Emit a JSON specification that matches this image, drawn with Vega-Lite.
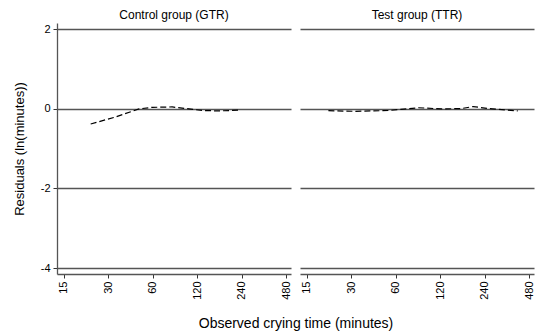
{
  "$schema": "https://vega.github.io/schema/vega-lite/v6.json",
  "padding": {"left": 13, "top": 9, "right": 0, "bottom": 2},
  "spacing": 9,
  "data": {"values": [
    {"group": "Control group (GTR)", "minutes": 22.8, "residual": -0.38},
    {"group": "Control group (GTR)", "minutes": 33.7, "residual": -0.2},
    {"group": "Control group (GTR)", "minutes": 48.4, "residual": 0.0},
    {"group": "Control group (GTR)", "minutes": 59.5, "residual": 0.04},
    {"group": "Control group (GTR)", "minutes": 81, "residual": 0.05},
    {"group": "Control group (GTR)", "minutes": 100, "residual": 0.01},
    {"group": "Control group (GTR)", "minutes": 130, "residual": -0.04},
    {"group": "Control group (GTR)", "minutes": 168, "residual": -0.05},
    {"group": "Control group (GTR)", "minutes": 235, "residual": -0.03},
    {"group": "Test group (TTR)", "minutes": 21, "residual": -0.045},
    {"group": "Test group (TTR)", "minutes": 31.9, "residual": -0.06},
    {"group": "Test group (TTR)", "minutes": 53.4, "residual": -0.04},
    {"group": "Test group (TTR)", "minutes": 85.4, "residual": 0.03},
    {"group": "Test group (TTR)", "minutes": 122.7, "residual": 0.0},
    {"group": "Test group (TTR)", "minutes": 167, "residual": 0.01},
    {"group": "Test group (TTR)", "minutes": 200, "residual": 0.06},
    {"group": "Test group (TTR)", "minutes": 254, "residual": 0.01},
    {"group": "Test group (TTR)", "minutes": 400, "residual": -0.05}
  ]},
  "config": {
    "font": "Liberation Sans",
    "view": {"stroke": null},
    "axis": {
      "domainColor": "#555555",
      "domainWidth": 1.3,
      "tickColor": "#333333",
      "tickSize": 4,
      "labelFont": "Liberation Sans",
      "labelFontSize": 11,
      "labelColor": "#000000",
      "titleFont": "Liberation Sans",
      "titleFontSize": 13,
      "titleFontWeight": "normal",
      "titleColor": "#000000",
      "gridColor": "#555555",
      "gridWidth": 1.3,
      "gridOpacity": 1
    },
    "header": {"labelFont": "Liberation Sans", "labelFontSize": 12, "labelColor": "#000000", "titleFont": "Liberation Sans", "titleFontSize": 14, "titleFontWeight": "normal", "titleColor": "#000000"}
  },
  "facet": {
    "column": {
      "field": "group",
      "type": "nominal",
      "sort": ["Control group (GTR)", "Test group (TTR)"],
      "header": {"title": "Observed crying time (minutes)", "titleOrient": "bottom", "titlePadding": 7, "labelOrient": "top", "labelPadding": 1}
    }
  },
  "spec": {
    "width": 234,
    "height": 251,
    "mark": {"type": "line", "color": "black", "strokeDash": [6, 3], "strokeWidth": 1.2},
    "encoding": {
      "x": {
        "field": "minutes",
        "type": "quantitative",
        "scale": {"type": "log", "domain": [13.5, 515], "nice": false},
        "axis": {"values": [15, 30, 60, 120, 240, 480], "labelAngle": -90, "grid": false, "title": null, "labelPadding": 3}
      },
      "y": {
        "field": "residual",
        "type": "quantitative",
        "scale": {"domain": [-4.15, 2.16], "nice": false, "zero": false},
        "axis": {"values": [-4, -2, 0, 2], "labelExpr": "datum.value < 0 ? '-' + abs(datum.value) : datum.label", "grid": true, "title": "Residuals (ln(minutes))", "titlePadding": 14, "labelPadding": 3}
      }
    }
  }
}
